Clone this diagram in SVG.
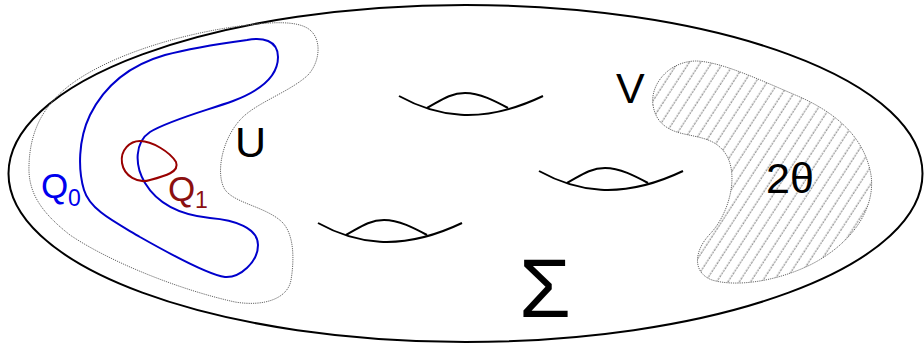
<svg xmlns="http://www.w3.org/2000/svg" width="924" height="348" viewBox="0 0 924 348">
<style>
.outline{fill:none;stroke:#000;stroke-width:2}
.dotted{stroke:#666;stroke-width:1;stroke-dasharray:1.2 1}
.lbl{font-family:"Liberation Sans",Arial,sans-serif}
</style>
<defs>
<pattern id="hatch" patternUnits="userSpaceOnUse" width="9.5" height="9.5" patternTransform="rotate(33)">
<line x1="4" y1="0" x2="4" y2="9.5" stroke="#666" stroke-width="0.9" stroke-dasharray="2 1"/>
</pattern>
</defs>
<rect width="924" height="348" fill="#fff"/>
<g id="surface">
<ellipse class="outline" cx="465.5" cy="173.5" rx="457" ry="168.5"/>
</g>
<g id="regionU">
<path class="dotted" fill="none" d="M29,165 C28,190 38,210 70,235 C110,262 180,290 235,302 C265,307 288,298 291,280 C294,262 295,235 282,222 C265,206 232,203 224,188 C216,172 222,140 240,120 C255,103 290,92 308,75 C320,62 322,40 310,30 C298,20 270,22 240,26 C180,34 110,55 70,85 C40,108 30,135 29,165 Z"/>
</g>
<g id="Q0">
<path fill="none" stroke="#0000cc" stroke-width="2" d="M247,40 C262,37 278,40 278,57 C278,75 262,90 233,101 C205,111 170,120 150,132 C135,142 134,165 145,183 C157,203 180,215 210,218 C235,220 258,228 258,245 C258,262 240,278 225,277 C210,275 170,254 140,237 C115,222 90,210 84,190 C78,170 78,140 90,115 C105,85 130,65 165,55 C195,47 225,43 247,40 Z"/>
</g>
<g id="Q1">
<path fill="none" stroke="#990000" stroke-width="2" d="M140,141 C152,141 170,152 176,162 C180,172 165,176 150,180 C138,184 124,176 122,163 C120,150 130,141 140,141 Z"/>
</g>
<g id="regionV">
<path class="dotted" fill="url(#hatch)" d="M653,105 C650,85 668,62 695,61 C720,61 760,80 800,97 C840,115 865,140 871,175 C876,210 850,245 810,265 C775,282 735,287 712,280 C693,273 693,252 710,234 C728,215 738,180 728,158 C718,138 700,138 680,133 C662,128 655,118 653,105 Z"/>
</g>
<g id="lens1">
<path class="outline" d="M399,96 C435,116 480,126 543,96"/>
<path class="outline" d="M427,108 C440,101 450,93 465,93 C480,93 495,101 508,108"/>
</g>
<g id="lens2" transform="translate(140,75)">
<path class="outline" d="M399,96 C435,116 480,126 543,96"/>
<path class="outline" d="M427,108 C440,101 450,93 465,93 C480,93 495,101 508,108"/>
</g>
<g id="lens3" transform="translate(-81,127)">
<path class="outline" d="M399,96 C435,116 480,126 543,96"/>
<path class="outline" d="M427,108 C440,101 450,93 465,93 C480,93 495,101 508,108"/>
</g>
<g id="labels" class="lbl">
<text x="41" y="198" font-size="35" fill="#0000ee">Q<tspan x="68" y="206" font-size="23">0</tspan></text>
<text x="168" y="201" font-size="35" fill="#8b1010">Q<tspan x="195" y="208" font-size="23">1</tspan></text>
<text x="235" y="157" font-size="43" fill="#000">U</text>
<text x="616" y="103" font-size="43" fill="#000">V</text>
<text x="766" y="193" font-size="43" fill="#000">2θ</text>
<text x="519" y="317" font-size="84" fill="#000">Σ</text>
</g>
</svg>
